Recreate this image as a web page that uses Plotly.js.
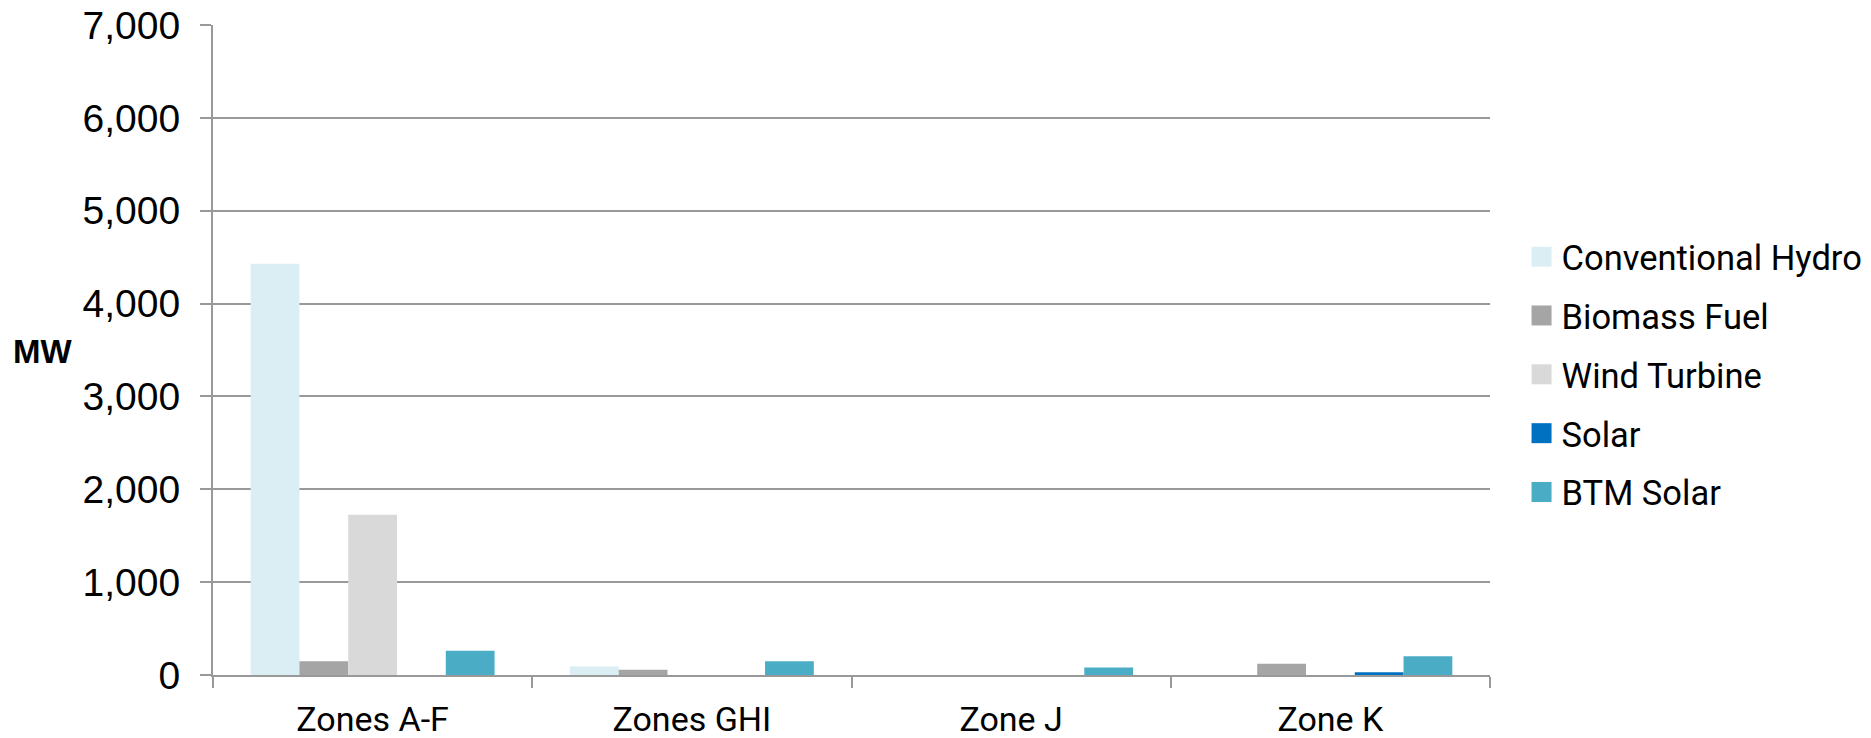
<!DOCTYPE html>
<html>
<head>
<meta charset="utf-8">
<script src="https://cdn.plot.ly/plotly-3.0.1.min.js"></script>
<style>
  html, body { margin: 0; padding: 0; background: #fff; }
  #chart { width: 1871px; height: 738px; }
</style>
</head>
<body>
<div id="chart"></div>
<script>
const categories = ["Zones A-F", "Zones GHI", "Zone J", "Zone K"];
const conventionalHydro = [4430, 91, 0, 0];
const biomassFuel = [148, 56, 0, 120];
const windTurbine = [1727, 0, 0, 0];
const solar = [0, 0, 0, 30];
const btmSolar = [260, 148, 81, 202];
const yTickVals = [0, 1000, 2000, 3000, 4000, 5000, 6000, 7000];
const yTickText = ["0", "1,000", "2,000", "3,000", "4,000", "5,000", "6,000", "7,000"];

const seriesNames = ["Conventional Hydro", "Biomass Fuel", "Wind Turbine", "Solar", "BTM Solar"];
const seriesValues = [conventionalHydro, biomassFuel, windTurbine, solar, btmSolar];
const seriesColors = ["#DAEEF3", "#A5A5A5", "#D9D9D9", "#0070C0", "#4BACC6"];

const traces = seriesNames.map((name, i) => ({
  type: "bar",
  name: name,
  x: categories,
  y: seriesValues[i],
  marker: { color: seriesColors[i], line: { width: 0 } },
  legendgroup: "g" + i,
  hoverinfo: "x+y+name"
}));

const layout = {
  width: 1871,
  height: 738,
  margin: { l: 213, r: 381, t: 25, b: 62.5, pad: 0, autoexpand: false },
  paper_bgcolor: "#ffffff",
  plot_bgcolor: "#ffffff",
  barmode: "group",
  bargap: 0.236,
  bargroupgap: 0,
  showlegend: true,
  legend: {
    x: 1.0247, xanchor: "left",
    y: 0.462, yanchor: "middle",
    font: { family: "Roboto, sans-serif", size: 34.5, color: "#000" },
    tracegroupgap: 11,
    traceorder: "grouped",
    bgcolor: "rgba(0,0,0,0)"
  },
  xaxis: {
    type: "category",
    showgrid: false,
    showline: true,
    linecolor: "#999999",
    linewidth: 2,
    ticks: "outside",
    tickson: "boundaries",
    ticklen: 11,
    tickwidth: 2,
    tickcolor: "#999999",
    ticklabelstandoff: 13,
    tickfont: { family: "Roboto, sans-serif", size: 34, color: "#000" },
    zeroline: false
  },
  yaxis: {
    range: [0, 7000],
    tickvals: yTickVals,
    ticktext: yTickText,
    showgrid: true,
    gridcolor: "#999999",
    gridwidth: 2,
    showline: true,
    linecolor: "#999999",
    linewidth: 2,
    ticks: "outside",
    ticklen: 11,
    tickwidth: 2,
    tickcolor: "#999999",
    ticklabelstandoff: 12,
    tickfont: { family: "Liberation Sans, Arial, sans-serif", size: 39, color: "#000" },
    zeroline: false
  },
  annotations: [{
    text: "MW",
    xref: "paper", yref: "paper",
    x: -0.1335, y: 0.497,
    xanchor: "center", yanchor: "middle",
    showarrow: false,
    font: { family: "Liberation Sans, Arial, sans-serif", size: 33, color: "#000", weight: "bold" }
  }]
};

Plotly.newPlot("chart", traces, layout, { displayModeBar: false, staticPlot: true }).then(() => {
  document.querySelectorAll(".legend .legendpoints path").forEach(p => {
    p.setAttribute("d", "M10,10H-10V-10H10Z");
  });
});
</script>
</body>
</html>
